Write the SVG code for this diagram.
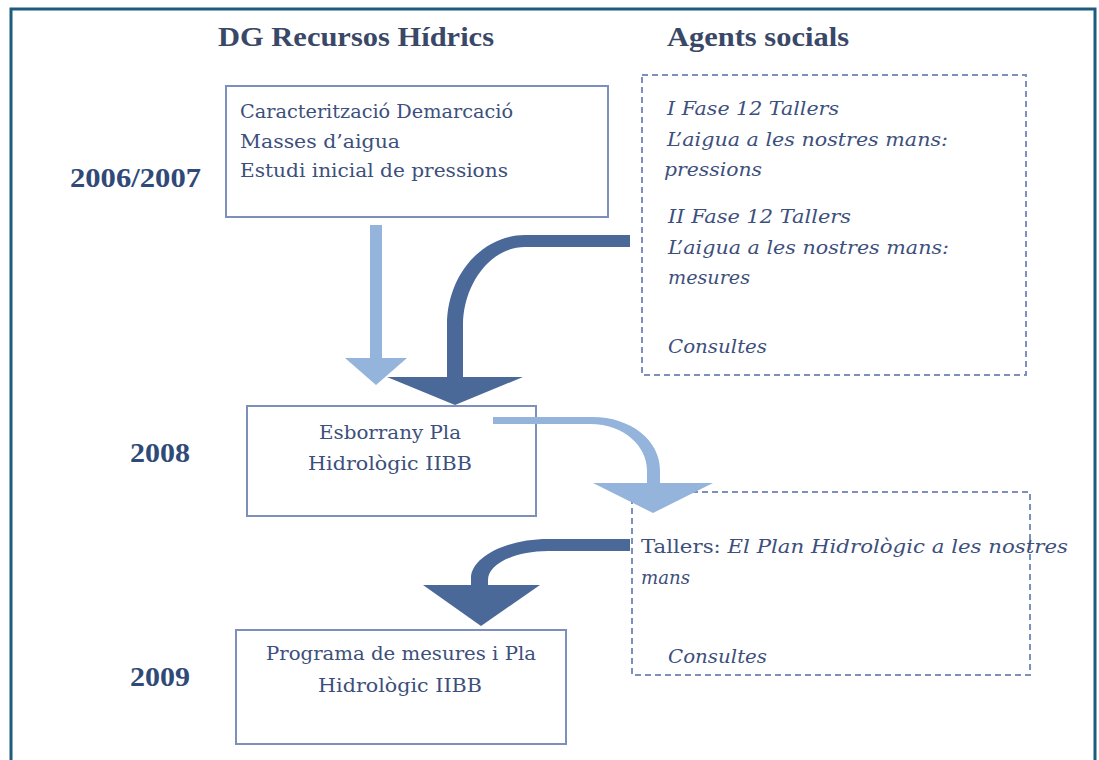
<svg xmlns="http://www.w3.org/2000/svg" width="1099" height="760" viewBox="0 0 1099 760">
<style>
.hdr{font-family:"Liberation Serif","DejaVu Serif",serif;font-weight:bold;font-size:27px;fill:#3a4868}
.yr{font-family:"Liberation Serif","DejaVu Serif",serif;font-weight:bold;font-size:28px;fill:#2f4a78}
.box{fill:#fff;stroke:#7d8fbc;stroke-width:2}
.dbox{fill:none;stroke:#7d8fbc;stroke-width:2;stroke-dasharray:6 4}
.t{font-family:"DejaVu Serif","Liberation Serif",serif;font-size:18px;fill:#3d4f7c}
.ti{font-family:"DejaVu Serif","Liberation Serif",serif;font-size:18px;font-style:italic;fill:#3d4f7c}
.light{fill:#95b4dc}
.dark{fill:#4a6898}
</style>
<rect width="1099" height="760" fill="#fff"/>
<path d="M11,760 V9 H1095 V760" fill="none" stroke="#1d5c7e" stroke-width="3"/>

<g id="headers">
<text class="hdr" x="218" y="46" textLength="276" lengthAdjust="spacingAndGlyphs">DG Recursos Hídrics</text>
<text class="hdr" x="667" y="46" textLength="182" lengthAdjust="spacingAndGlyphs">Agents socials</text>
</g>
<g id="years">
<text class="yr" x="70" y="187" textLength="131" lengthAdjust="spacingAndGlyphs">2006/2007</text>
<text class="yr" x="130" y="462" textLength="60" lengthAdjust="spacingAndGlyphs">2008</text>
<text class="yr" x="130" y="686" textLength="60" lengthAdjust="spacingAndGlyphs">2009</text>
</g>

<g id="node-caracteritzacio">
<rect class="box" x="226" y="86" width="382" height="131"/>
<text class="t" x="240" y="118" textLength="273" lengthAdjust="spacingAndGlyphs">Caracterització Demarcació</text>
<text class="t" x="240" y="148" textLength="160" lengthAdjust="spacingAndGlyphs">Masses d’aigua</text>
<text class="t" x="240" y="177" textLength="268" lengthAdjust="spacingAndGlyphs">Estudi inicial de pressions</text>
</g>

<g id="node-tallers1">
<rect class="dbox" x="642" y="75" width="384" height="300"/>
<text class="ti" x="667" y="115" textLength="172" lengthAdjust="spacingAndGlyphs">I Fase 12 Tallers</text>
<text class="ti" x="667" y="146" textLength="281" lengthAdjust="spacingAndGlyphs">L’aigua a les nostres mans:</text>
<text class="ti" x="664" y="176" textLength="98" lengthAdjust="spacingAndGlyphs">pressions</text>
<text class="ti" x="668" y="223" textLength="183" lengthAdjust="spacingAndGlyphs">II Fase 12 Tallers</text>
<text class="ti" x="668" y="254" textLength="281" lengthAdjust="spacingAndGlyphs">L’aigua a les nostres mans:</text>
<text class="ti" x="668" y="284" textLength="82" lengthAdjust="spacingAndGlyphs">mesures</text>
<text class="ti" x="668" y="353" textLength="99" lengthAdjust="spacingAndGlyphs">Consultes</text>
</g>

<g id="node-esborrany">
<rect class="box" x="247" y="406" width="289" height="110"/>
<text class="t" x="390" y="439" text-anchor="middle" textLength="142" lengthAdjust="spacingAndGlyphs">Esborrany Pla</text>
<text class="t" x="390" y="470" text-anchor="middle" textLength="164" lengthAdjust="spacingAndGlyphs">Hidrològic IIBB</text>
</g>

<g id="node-tallers2">
<rect class="dbox" x="632" y="492" width="398" height="183"/>
<text class="t" x="641" y="553" textLength="427" lengthAdjust="spacingAndGlyphs">Tallers: <tspan class="ti">El Plan Hidrològic a les nostres</tspan></text>
<text class="ti" x="641" y="584" textLength="49" lengthAdjust="spacingAndGlyphs">mans</text>
<text class="ti" x="668" y="663" textLength="99" lengthAdjust="spacingAndGlyphs">Consultes</text>
</g>

<g id="node-programa">
<rect class="box" x="236" y="630" width="330" height="114"/>
<text class="t" x="401" y="660" text-anchor="middle" textLength="270" lengthAdjust="spacingAndGlyphs">Programa de mesures i Pla</text>
<text class="t" x="400" y="692" text-anchor="middle" textLength="164" lengthAdjust="spacingAndGlyphs">Hidrològic IIBB</text>
</g>

<g id="connectors">
<g id="arrow1">
<rect class="light" x="370" y="225" width="12" height="134"/>
<polygon class="light" points="345,358 407,358 376,385"/>
</g>
<g id="arrow2">
<path class="dark" d="M630,235 H525 C482,235 447,275 447,325 V378 H463 V325 C463,285 490,247 525,247 H630 Z"/>
<polygon class="dark" points="387,377 523,377 455,405"/>
</g>
<g id="arrow3">
<path class="light" d="M493,417 H590 C630,416 660,440 660,470 V484 H647 V470 C647,447 625,424 590,424 H493 Z"/>
<polygon class="light" points="593,483 713,483 653,513"/>
</g>
<g id="arrow4">
<path class="dark" d="M630,539 H548 C505,539 471,558 471,578 V586 H488 V580 C488,564 515,551 548,551 H630 Z"/>
<polygon class="dark" points="423,585 540,585 481,626"/>
</g>
</g>
</svg>
